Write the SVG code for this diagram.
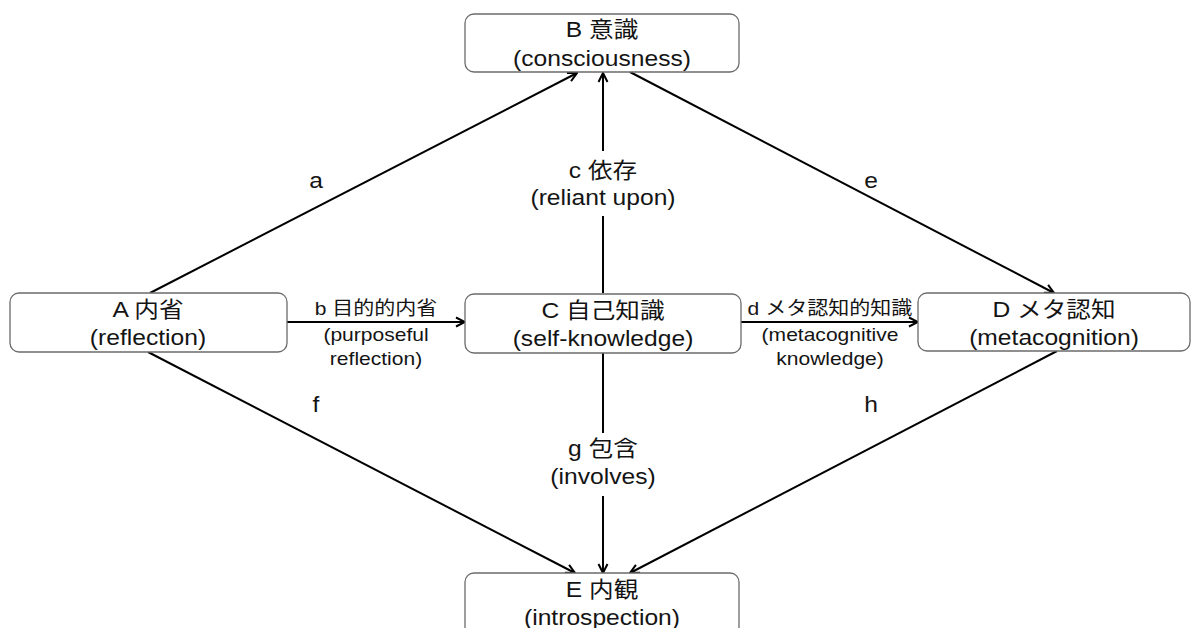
<svg xmlns="http://www.w3.org/2000/svg" width="1192" height="628" viewBox="0 0 1192 628">
  <style>
    .box { fill: #ffffff; stroke: #6b6b6b; stroke-width: 1.3; }
    .edge { fill: none; stroke: #000000; stroke-width: 2; }
    text { font-family: "Liberation Sans", Arial, "Noto Sans CJK JP", sans-serif; fill: #141414; text-anchor: middle; }
    .n { font-size: 22px; }
    .l { font-size: 22px; }
    .s { font-size: 18.8px; }
    .bg { fill: #ffffff; stroke: none; }
  </style>
  <defs>
    <marker id="arrow" viewBox="0 0 12 12" refX="11" refY="6" markerWidth="12" markerHeight="12" orient="auto" markerUnits="userSpaceOnUse">
      <path d="M2,1.5 L11,6 L2,10.5" fill="none" stroke="#000000" stroke-width="2"/>
    </marker>
  </defs>
  <rect width="1192" height="628" fill="#ffffff"/>

  <!-- connectors -->
  <g id="connectors">
    <line id="edge-a" class="edge" x1="150" y1="293" x2="577" y2="73" marker-end="url(#arrow)"/>
    <line id="edge-e" class="edge" x1="630" y1="72" x2="1054" y2="293" marker-end="url(#arrow)"/>
    <line id="edge-f" class="edge" x1="148" y1="352" x2="575" y2="573" marker-end="url(#arrow)"/>
    <line id="edge-h" class="edge" x1="1057" y1="351" x2="630" y2="573" marker-end="url(#arrow)"/>
    <line id="edge-c" class="edge" x1="603" y1="293" x2="603" y2="73" marker-end="url(#arrow)"/>
    <line id="edge-g" class="edge" x1="603" y1="353" x2="603" y2="573" marker-end="url(#arrow)"/>
    <line id="edge-b" class="edge" x1="287" y1="322" x2="465" y2="322" marker-end="url(#arrow)"/>
    <line id="edge-d" class="edge" x1="741" y1="322" x2="918" y2="322" marker-end="url(#arrow)"/>

    <!-- edge labels -->
    <text class="l" transform="translate(316,188) scale(1.12,1)">a</text>
    <text class="l" transform="translate(871,188) scale(1.12,1)">e</text>
    <text class="l" transform="translate(316,412) scale(1.12,1)">f</text>
    <text class="l" transform="translate(871,412) scale(1.12,1)">h</text>

    <rect class="bg" x="526" y="151" width="154" height="65"/>
    <text class="l" transform="translate(603,178) scale(1.12,1)">c 依存</text>
    <text class="l" transform="translate(603,205) scale(1.12,1)">(reliant upon)</text>

    <rect class="bg" x="546" y="433" width="114" height="63"/>
    <text class="l" transform="translate(603,456) scale(1.12,1)">g 包含</text>
    <text class="l" transform="translate(603,484) scale(1.12,1)">(involves)</text>

    <text class="s" transform="translate(376,315) scale(1.12,1)">b 目的的内省</text>
    <text class="s" transform="translate(376,341) scale(1.12,1)">(purposeful</text>
    <text class="s" transform="translate(376,365) scale(1.12,1)">reflection)</text>

    <text class="s" transform="translate(830,315) scale(1.12,1)">d メタ認知的知識</text>
    <text class="s" transform="translate(830,341) scale(1.12,1)">(metacognitive</text>
    <text class="s" transform="translate(830,365) scale(1.12,1)">knowledge)</text>
  </g>

  <!-- nodes -->
  <g id="node-B">
    <rect class="box" x="465" y="14" width="274" height="58" rx="9"/>
    <text class="n" transform="translate(602,37) scale(1.12,1)">B 意識</text>
    <text class="n" transform="translate(602,66) scale(1.12,1)">(consciousness)</text>
  </g>
  <g id="node-A">
    <rect class="box" x="10" y="293" width="277" height="59" rx="9"/>
    <text class="n" transform="translate(148,317) scale(1.12,1)">A 内省</text>
    <text class="n" transform="translate(148,345) scale(1.12,1)">(reflection)</text>
  </g>
  <g id="node-C">
    <rect class="box" x="465" y="294" width="276" height="59" rx="9"/>
    <text class="n" transform="translate(603,318) scale(1.12,1)">C 自己知識</text>
    <text class="n" transform="translate(603,346) scale(1.12,1)">(self-knowledge)</text>
  </g>
  <g id="node-D">
    <rect class="box" x="918" y="293" width="272" height="58" rx="9"/>
    <text class="n" transform="translate(1054,317) scale(1.12,1)">D メタ認知</text>
    <text class="n" transform="translate(1054,345) scale(1.12,1)">(metacognition)</text>
  </g>
  <g id="node-E">
    <rect class="box" x="465" y="573" width="274" height="70" rx="9"/>
    <text class="n" transform="translate(602,597) scale(1.12,1)">E 内観</text>
    <text class="n" transform="translate(602,625) scale(1.12,1)">(introspection)</text>
  </g>
</svg>
